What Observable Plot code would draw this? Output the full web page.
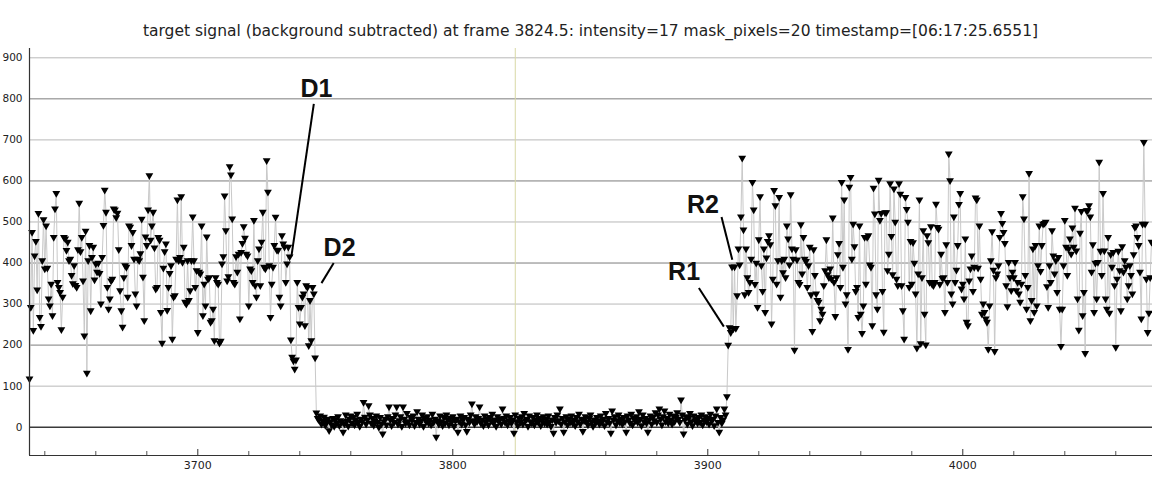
<!DOCTYPE html>
<html>
<head>
<meta charset="utf-8">
<script src="https://cdn.jsdelivr.net/npm/d3@7"></script>
<script src="https://cdn.jsdelivr.net/npm/@observablehq/plot@0.6"></script>
<style>
  html, body { margin: 0; padding: 0; background: #fff; overflow: hidden; }
  #title { box-sizing: border-box; height: 48px; padding-top: 22px; padding-left: 29px; text-align: center;
           font-family: "DejaVu Sans", sans-serif; font-size: 15.5px; line-height: 18px; color: #222; white-space: nowrap; }
</style>
</head>
<body>
<div id="title"></div>
<div id="chart"></div>
<script>
// ---- chart data ----
const titleText = "target signal (background subtracted) at frame 3824.5: intensity=17 mask_pixels=20 timestamp=[06:17:25.6551]";
const frameStart = 3634;   // frame of first sample
const frameStep = 0.5;     // samples every half frame
const currentFrame = 3824.5;

// samples before the drop (D1/D2)
const signalBefore = [
  118,292,475,236,418,453,335,521,268,246,406,506,386,491,388,313,296,349,272,463,
  532,570,353,341,329,238,317,463,459,431,451,406,410,370,350,394,346,341,433,546,
  428,463,357,223,478,132,406,443,284,414,439,359,398,378,400,375,301,414,492,578,
  524,341,288,313,357,361,532,530,511,522,433,333,284,244,365,394,390,317,491,488,
  443,475,410,325,296,410,406,423,507,366,260,464,443,530,613,456,491,524,437,337,
  341,463,456,280,205,388,428,447,285,341,375,394,
  215,317,321,410,554,406,414,562,402,439,305,300,
  406,309,333,406,513,406,341,382,231,378,374,491,272,349,296,464,361,
  365,256,260,288,211,365,353,349,205,210,398,416,564,479,357,367,635,615,508,353,349,416,378,422,264,
  426,448,489,461,422,418,296,386,
  382,353,504,345,317,406,435,345,451,524,
  390,386,650,573,394,268,349,390,443,512,432,431,317,296,467,447,439,353,398,439,415,
  213,171,162,142,164,353,292,252,292,317,325,248,345,341,199,309,211,341,325,169
];
// samples in the low (dark) phase
const signalLow = [
  35,22,18,28,8,15,25,5,12,20,-8,14,6,22,2,18,10,26,4,16,
  12,-12,8,30,15,3,20,28,10,24,6,18,32,12,2,20,14,61,25,8,
  18,53,30,10,22,5,16,28,12,0,24,8,-16,14,20,6,26,50,18,4,
  22,12,30,50,8,16,26,2,50,20,10,34,14,6,24,18,28,4,12,38,
  20,8,16,30,2,22,14,26,10,18,6,32,12,20,-24,16,8,28,14,4,
  24,10,30,18,6,22,12,26,2,16,20,-12,14,28,8,18,24,6,-10,20,
  12,30,57,16,8,26,14,22,50,10,18,4,28,12,20,6,24,16,32,10,
  18,2,26,14,20,8,45,22,12,28,6,16,24,10,18,-14,30,14,4,22,
  12,26,8,34,16,20,2,28,14,10,24,6,18,30,12,22,4,16,26,10,
  20,8,28,14,2,18,-14,24,12,30,16,45,8,22,-12,14,26,6,20,12,
  28,10,18,4,24,14,32,8,20,-10,16,26,12,6,22,30,14,2,18,10,
  24,16,8,28,12,20,4,34,14,22,10,-14,40,18,26,6,16,30,12,20,
  8,24,14,-12,28,18,10,32,6,22,16,26,12,38,20,4,30,14,22,10,
  -12,18,28,8,24,16,36,12,30,45,20,6,26,40,14,22,10,32,18,8,
  28,14,24,36,20,12,67,30,-16,18,26,8,22,34,14,4,28,16,20,10,
  24,12,30,6,18,26,14,22,8,32,16,20,4,28,45,12,-12,24,10,18,45,30,75
];
// samples after the recovery (R1/R2)
const signalAfter = [
  200,243,231,391,240,391,241,321,435,396,513,656,481,323,435,365,329,353,410,597,
  530,348,400,292,457,562,394,331,435,280,413,453,467,445,252,361,577,540,349,406,
  560,317,406,377,410,365,491,459,396,567,435,410,188,433,408,353,348,494,374,463,
  410,404,341,394,439,323,234,433,370,325,309,305,260,288,276,345,382,457,372,365,
  386,361,510,353,270,365,421,448,341,597,390,554,301,323,190,585,609,410,495,440,
  331,341,268,491,276,229,296,463,349,
  463,467,396,390,248,583,520,323,288,602,504,521,331,232,523,523,382,422,594,465,
  372,581,500,361,345,594,568,345,284,215,560,531,500,341,453,349,450,400,325,193,
  374,554,204,365,479,276,201,467,450,353,489,348,345,353,544,487,483,348,422,363,
  365,280,445,353,666,601,325,301,513,353,383,443,543,570,337,349,313,459,256,248,
  357,386,418,331,390,559,554,388,491,361,276,301,280,264,256,190,296,406,477,383,
  185,365,374,394,463,521,497,475,448,345,294,
  402,365,333,378,365,402,333,353,325,305,349,562,508,370,288,341,619,260,309,435,280,
  443,296,394,491,380,443,495,
  497,500,343,292,394,353,479,418,374,406,329,414,288,197,288,394,504,439,
  370,435,459,422,486,439,534,430,
  313,237,473,526,272,329,180,528,528,540,513,378,
  445,280,400,313,402,646,429,370,570,430,313,288,
  463,278,421,390,426,345,195,361,429,382,284,440,378,406,390,313,
  345,394,370,325,421,487,491,463,443,378,264,495,694,495,361,231,278,365,451
];

const xDomain = [3634, 4074.4];
const yDomain = [-69, 922.7];
const xMajorTicks = [3700, 3800, 3900, 4000];
const xMinorTicks = [3640,3660,3680,3720,3740,3760,3780,3820,3840,3860,3880,3920,3940,3960,3980,4020,4040,4060];
const yTicks = [0,100,200,300,400,500,600,700,800,900];
const yGridMajor = [200,400,600,800];
const yGridMinor = [100,300,500,700,900];

const labelNames = ["D1","D2","R2","R1"];
const labelFrames = [3746.5, 3755.6, 3898.1, 3890.7];
const labelValues = [823, 436, 541, 377];
const leaderFrom = [[3745.5,788],[3753.3,400],[3905.4,512],[3896.5,339]];
const leaderTo   = [[3736.7,416],[3748.5,351],[3909.6,408],[3906.3,245]];

// ---- build ----
document.getElementById("title").textContent = titleText;
const signal = [...signalBefore, ...signalLow, ...signalAfter];
const data = signal.map((v, i) => ({frame: frameStart + i * frameStep, value: v}));
const labels = labelNames.map((t, i) => ({t, x: labelFrames[i], y: labelValues[i]}));
const leaders = leaderFrom.map((a, i) => ({x1: a[0], y1: a[1], x2: leaderTo[i][0], y2: leaderTo[i][1]}));

const H = 433, mb = 26;
const chart = Plot.plot({
  width: 1152,
  height: H,
  marginLeft: 29, marginRight: 0, marginTop: 0, marginBottom: mb,
  x: {domain: xDomain},
  y: {domain: yDomain},
  style: {fontFamily: "DejaVu Sans, sans-serif", fontSize: "10.5px", background: "#fff", color: "#222"},
  marks: [
    Plot.ruleY(yGridMinor, {stroke: "#b8b8b8", strokeWidth: 1}),
    Plot.ruleY(yGridMajor, {stroke: "#7c7c7c", strokeWidth: 1}),
    Plot.ruleX([currentFrame], {stroke: "#d9d9a6", strokeWidth: 1}),
    Plot.ruleY([0], {stroke: "#3a3a3a", strokeWidth: 1.6}),
    Plot.line(data, {x: "frame", y: "value", stroke: "#c9c9c9", strokeWidth: 1}),
    Plot.dot(data, {x: "frame", y: "value", symbol: "triangle", rotate: 180, r: 2.9, fill: "#000", stroke: "none"}),
    Plot.link(leaders, {x1: "x1", y1: "y1", x2: "x2", y2: "y2", stroke: "#000", strokeWidth: 2}),
    Plot.text(labels, {x: "x", y: "y", text: "t", fontSize: 25, fontWeight: "bold", fontFamily: "Liberation Sans, Arial, sans-serif", fill: "#111"}),
    // axes
    Plot.ruleX([xDomain[0]], {stroke: "#333", strokeWidth: 1.2}),
    Plot.ruleY([yDomain[0]], {stroke: "#333", strokeWidth: 1.2}),
    Plot.ruleX(xMajorTicks, {stroke: "#333", insetTop: H - mb - 6}),
    Plot.ruleX(xMinorTicks, {stroke: "#555", insetTop: H - mb - 4}),
    Plot.axisX(xMajorTicks, {tickSize: 0, tickPadding: 6, label: null, fontSize: 11, tickFormat: d => String(d)}),
    Plot.axisY(yTicks, {tickSize: 0, tickPadding: 7, label: null, fontSize: 10.5, tickFormat: d => String(d)})
  ]
});
document.getElementById("chart").appendChild(chart);
</script>
</body>
</html>
